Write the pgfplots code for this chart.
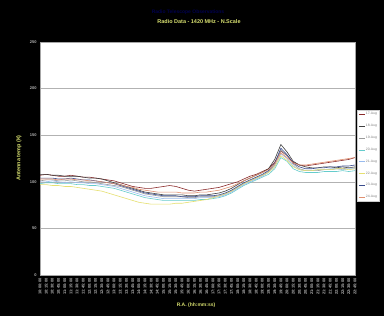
\documentclass[border=0pt]{standalone}
\usepackage{pgfplots}
\pgfplotsset{compat=1.18}
\usepackage{fontspec}
\setmainfont{Liberation Sans}
\definecolor{sMaroon}{HTML}{8B2A2A}
\definecolor{sDark}{HTML}{404040}
\definecolor{sGray}{HTML}{9A9A9A}
\definecolor{sCyan}{HTML}{66CCCC}
\definecolor{sLBlue}{HTML}{99BBEE}
\definecolor{sYellow}{HTML}{E6E070}
\definecolor{sNavy}{HTML}{3A4C8C}
\definecolor{sSalmon}{HTML}{E09070}
\definecolor{ttl}{HTML}{D8E070}
\begin{document}
\begin{tikzpicture}[x=1bp,y=1bp]
\fill[black] (0,0) rectangle (384,316);
\node[text=blue!30!black,font=\fontsize{5}{6}\selectfont\bfseries] at (188,304) {Radio Telescope Observations};
\node[text=ttl,font=\fontsize{5.5}{6}\selectfont\bfseries] at (199,294) {Radio Data - 1420 MHz - N.Scale};
\node[text=ttl,font=\fontsize{5}{6}\selectfont\bfseries] at (196,11) {R.A. (hh:mm:ss)};
\node[text=ttl,font=\fontsize{5.5}{6}\selectfont\bfseries,rotate=90] at (19,158) {Antenna temp (K)};
\begin{axis}[
  at={(40bp,41bp)}, anchor=south west,
  width=315bp, height=233bp, scale only axis,
  xmin=0, xmax=51, ymin=0, ymax=250,
  ytick={0,50,100,150,200,250},
  ymajorgrids, major grid style={gray!60, line width=0.5pt},
  axis background/.style={fill=white},
  axis line style={gray!70, line width=0.8pt},
  tick style={draw=none},
  xtick={0,...,51},
  xticklabels={10:00:00,10:15:00,10:30:00,10:45:00,11:00:00,11:15:00,11:30:00,11:45:00,12:00:00,12:15:00,12:30:00,12:45:00,13:00:00,13:15:00,13:30:00,13:45:00,14:00:00,14:15:00,14:30:00,14:45:00,15:00:00,15:15:00,15:30:00,15:45:00,16:00:00,16:15:00,16:30:00,16:45:00,17:00:00,17:15:00,17:30:00,17:45:00,18:00:00,18:15:00,18:30:00,18:45:00,19:00:00,19:15:00,19:30:00,19:45:00,20:00:00,20:15:00,20:30:00,20:45:00,21:00:00,21:15:00,21:30:00,21:45:00,22:00:00,22:15:00,22:30:00,22:45:00},
  x tick label style={rotate=90, anchor=east, font=\fontsize{4}{4}\selectfont\bfseries, text=gray!60},
  y tick label style={font=\fontsize{4}{4}\selectfont\bfseries, text=gray!60},
  /pgf/number format/assume math mode=true,
  legend style={at={(rel axis cs:1.006,0.708)}, anchor=north west, draw=gray!40, fill=white,
    font=\fontsize{3.4}{4}\selectfont, text=gray, row sep=6.4pt, inner sep=1.5pt,
    nodes={inner sep=0.8pt}},
  legend image code/.code={\draw[#1] (0bp,0bp) -- (6bp,0bp);},
  legend cell align=left,
  every axis plot/.append style={line width=0.6pt, mark=none},
]
\addplot[sMaroon] coordinates {(0,107)(1,108)(2,107)(3,106)(4,106)(5,107)(6,106)(7,105)(8,105)(9,104)(10,103)(11,102)(12,101)(13,99)(14,97)(15,95)(16,94)(17,93)(18,93)(19,94)(20,95)(21,96)(22,95)(23,93)(24,91)(25,90)(26,91)(27,92)(28,93)(29,94)(30,96)(31,98)(32,100)(33,103)(34,106)(35,108)(36,111)(37,114)(38,121)(39,133)(40,128)(41,121)(42,118)(43,117)(44,118)(45,119)(46,120)(47,121)(48,122)(49,123)(50,124)(51,126)};
\addlegendentry{17-Aug}
\addplot[sDark] coordinates {(0,108)(1,108)(2,107)(3,107)(4,106)(5,106)(6,106)(7,105)(8,104)(9,104)(10,103)(11,101)(12,99)(13,97)(14,95)(15,93)(16,91)(17,89)(18,88)(19,87)(20,86)(21,86)(22,86)(23,86)(24,85)(25,85)(26,86)(27,86)(28,87)(29,88)(30,90)(31,93)(32,97)(33,101)(34,104)(35,107)(36,110)(37,114)(38,124)(39,140)(40,132)(41,122)(42,118)(43,116)(44,115)(45,115)(46,116)(47,116)(48,115)(49,116)(50,115)(51,116)};
\addlegendentry{18-Aug}
\addplot[sGray] coordinates {(0,101)(1,102)(2,102)(3,101)(4,101)(5,102)(6,101)(7,100)(8,100)(9,99)(10,98)(11,97)(12,96)(13,95)(14,93)(15,91)(16,89)(17,87)(18,86)(19,85)(20,84)(21,84)(22,84)(23,84)(24,83)(25,83)(26,84)(27,84)(28,84)(29,85)(30,87)(31,90)(32,94)(33,98)(34,101)(35,104)(36,107)(37,111)(38,118)(39,134)(40,128)(41,119)(42,114)(43,112)(44,112)(45,112)(46,113)(47,113)(48,114)(49,114)(50,115)(51,115)};
\addlegendentry{19-Aug}
\addplot[sCyan] coordinates {(0,98)(1,99)(2,99)(3,98)(4,98)(5,98)(6,97)(7,97)(8,96)(9,96)(10,95)(11,94)(12,93)(13,91)(14,89)(15,87)(16,85)(17,83)(18,82)(19,81)(20,80)(21,80)(22,80)(23,80)(24,80)(25,80)(26,81)(27,81)(28,82)(29,83)(30,85)(31,88)(32,92)(33,96)(34,99)(35,102)(36,105)(37,108)(38,114)(39,126)(40,122)(41,114)(42,111)(43,110)(44,110)(45,110)(46,111)(47,111)(48,111)(49,112)(50,111)(51,112)};
\addlegendentry{20-Aug}
\addplot[sLBlue] coordinates {(0,100)(1,100)(2,101)(3,100)(4,99)(5,100)(6,99)(7,99)(8,98)(9,98)(10,97)(11,96)(12,95)(13,93)(14,91)(15,89)(16,87)(17,85)(18,84)(19,83)(20,82)(21,82)(22,82)(23,82)(24,82)(25,82)(26,83)(27,83)(28,83)(29,84)(30,86)(31,89)(32,93)(33,97)(34,100)(35,103)(36,106)(37,110)(38,116)(39,130)(40,125)(41,117)(42,113)(43,112)(44,112)(45,113)(46,113)(47,114)(48,114)(49,113)(50,114)(51,114)};
\addlegendentry{21-Aug}
\addplot[sYellow] coordinates {(0,97)(1,97)(2,96)(3,96)(4,95)(5,95)(6,94)(7,93)(8,92)(9,91)(10,90)(11,88)(12,86)(13,84)(14,82)(15,80)(16,78)(17,77)(18,76)(19,76)(20,76)(21,76)(22,77)(23,77)(24,78)(25,79)(26,80)(27,81)(28,83)(29,85)(30,87)(31,90)(32,94)(33,98)(34,101)(35,104)(36,107)(37,110)(38,116)(39,128)(40,123)(41,116)(42,113)(43,112)(44,112)(45,113)(46,113)(47,113)(48,114)(49,114)(50,113)(51,114)};
\addlegendentry{22-Aug}
\addplot[sNavy] coordinates {(0,104)(1,104)(2,104)(3,103)(4,103)(5,104)(6,103)(7,102)(8,102)(9,101)(10,100)(11,99)(12,98)(13,96)(14,94)(15,92)(16,90)(17,88)(18,87)(19,86)(20,85)(21,85)(22,85)(23,84)(24,84)(25,84)(26,85)(27,85)(28,85)(29,86)(30,88)(31,91)(32,95)(33,99)(34,102)(35,105)(36,108)(37,112)(38,120)(39,136)(40,129)(41,120)(42,116)(43,114)(44,114)(45,115)(46,115)(47,116)(48,116)(49,117)(50,117)(51,118)};
\addlegendentry{23-Aug}
\addplot[sSalmon] coordinates {(0,103)(1,103)(2,103)(3,102)(4,103)(5,103)(6,102)(7,102)(8,101)(9,101)(10,100)(11,99)(12,98)(13,97)(14,95)(15,94)(16,92)(17,91)(18,90)(19,89)(20,89)(21,89)(22,89)(23,88)(24,88)(25,88)(26,89)(27,89)(28,90)(29,91)(30,93)(31,95)(32,98)(33,101)(34,104)(35,107)(36,110)(37,113)(38,119)(39,131)(40,126)(41,120)(42,118)(43,118)(44,119)(45,120)(46,121)(47,122)(48,123)(49,124)(50,125)(51,126)};
\addlegendentry{24-Aug}
\end{axis}
\pgfresetboundingbox
\useasboundingbox (0,0) rectangle (384,316);
\end{tikzpicture}
\end{document}
